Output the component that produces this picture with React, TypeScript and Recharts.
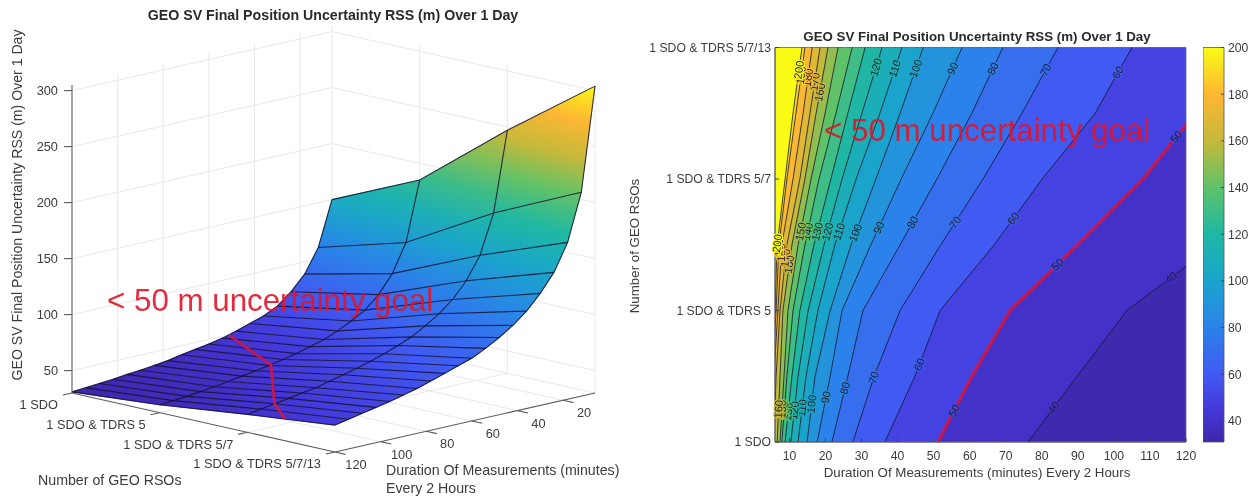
import { Area, Bar, BarChart, ComposedChart, Line, ReferenceArea, ReferenceDot, Scatter, XAxis, YAxis } from "recharts";

// measurement durations (minutes) and the four RSO configurations
const durations = [6, 12, 18, 24, 30, 36, 42, 48, 54, 60, 66, 72, 78, 84, 90, 96, 102, 108, 114, 120];
const rsoRows = [1, 2, 3, 4];
const rsoLabels = ["1 SDO", "1 SDO & TDRS 5", "1 SDO & TDRS 5/7", "1 SDO & TDRS 5/7/13"];

// uncertainty (m) per row, same order as durations
const surfaceSdo = [150, 110, 89, 76, 66, 60, 56, 52, 48.5, 46, 44, 42, 39.5, 38, 36.5, 35.5, 34, 33, 32, 31];
const surfaceTdrs5 = [185, 132, 107, 91, 80, 73, 67, 62, 58.5, 55, 52.5, 50, 48, 46, 44, 42, 40.5, 39, 38, 37];
const surfaceTdrs57 = [247, 176, 141, 121, 107, 97, 89, 82, 77, 72.5, 68.5, 65, 62, 59, 56, 54, 52, 50, 48, 46];
const surfaceTdrs5713 = [304, 212, 170, 146, 130, 117, 107, 99, 92, 86, 82, 78, 74, 70, 67, 64, 61.5, 59, 56.5, 54];
const surfaceValues = [surfaceSdo, surfaceTdrs5, surfaceTdrs57, surfaceTdrs5713];
const goalPath = [
  [51.2, 1],
  [71.2, 2],
  [108.1, 3],
  [120, 3.43],
];

const zTicks = [50, 100, 150, 200, 250, 300];
const durationTicks3d = [20, 40, 60, 80, 100, 120];
const durationTicks = [10, 20, 30, 40, 50, 60, 70, 80, 90, 100, 110, 120];
const colorbarTicks = [40, 60, 80, 100, 120, 140, 160, 180, 200];

// duration (minutes) of each contour at these row positions
const contourRows = [1, 1.5, 2, 2.5, 3, 3.5, 4];
const level40 = [76.2, 89.8, 103.6, 128.1, 151.6, 179.4, 207.1];
const level50 = [51.2, 60.6, 71.2, 90, 108.1, 122.5, 137.8];
const level60 = [36.5, 44.8, 51.8, 66.8, 80.1, 94.8, 105];
const level70 = [27.6, 33.5, 40.7, 52, 63.7, 74.5, 84.5];
const level80 = [21.8, 26.2, 30.4, 40.7, 50.9, 60.6, 69.2];
const level90 = [17.7, 21.3, 24.6, 32.6, 41, 49.8, 57.9];
const level100 = [14.9, 17.1, 21.3, 27.1, 34, 40.7, 47.1];
const level110 = [12.4, 14.6, 17.9, 22.6, 28.5, 35.1, 41.2];
const level120 = [10.4, 12.4, 15.2, 19.6, 24.6, 30.1, 35.7];
const level130 = [8.8, 10.7, 12.9, 16.8, 21.5, 26.2, 31];
const level140 = [7.9, 9.3, 11, 14.3, 18.2, 22.9, 27.4];
const level150 = [7.4, 8.5, 9.6, 12.4, 16, 19.9, 23.5];
const level160 = [6.6, 7.4, 8.2, 10.7, 14.3, 17.4, 20.7];
const level170 = [5.7, 6.3, 7.4, 9.3, 12.9, 15.7, 18.5];
const level180 = [5.2, 5.7, 6.8, 7.9, 11, 13.8, 16.3];
const level190 = [4.6, 5.2, 6.3, 7.1, 9.3, 11.8, 14.3];
const level200 = [3.2, 4.1, 6, 6.6, 8.8, 11, 13.5];
const contours: [number, number[]][] = [
  [40, level40],
  [50, level50],
  [60, level60],
  [70, level70],
  [80, level80],
  [90, level90],
  [100, level100],
  [110, level110],
  [120, level120],
  [130, level130],
  [140, level140],
  [150, level150],
  [160, level160],
  [170, level170],
  [180, level180],
  [190, level190],
  [200, level200],
];
// row positions of the inline contour labels
const contourLabelRows: [number, number[]][] = [
  [40, [1.26, 2.25]],
  [50, [1.24, 2.35, 3.32]],
  [60, [1.59, 2.7, 3.81]],
  [70, [1.49, 2.67, 3.83]],
  [80, [1.41, 2.67, 3.84]],
  [90, [1.34, 2.63, 3.84]],
  [100, [1.29, 2.59, 3.84]],
  [110, [1.26, 2.6, 3.84]],
  [120, [1.24, 2.6, 3.85]],
  [130, [1.23, 2.6]],
  [140, [1.24, 2.6]],
  [150, [1.25, 2.6]],
  [160, [1.25, 2.35, 3.66]],
  [170, [2.4, 3.74]],
  [180, [2.44, 3.77]],
  [190, [2.48, 3.79]],
  [200, [2.51, 3.83]],
];

const TITLE = "GEO SV Final Position Uncertainty RSS (m) Over 1 Day";
const GOAL = "< 50 m uncertainty goal";
const TEXT = "#3c3c3c";
const RED = "#e0142a";
const CRIMSON = "#c9174a";
const FONT = '"Liberation Sans", Arial, sans-serif';

const parulaStops: [number, string][] = [
  [0, "#3e26a8"],
  [0.08, "#4537d8"],
  [0.17, "#4159f2"],
  [0.29, "#2b82ea"],
  [0.41, "#1aa5cb"],
  [0.53, "#1fb8a3"],
  [0.645, "#5fc269"],
  [0.76, "#c3b93a"],
  [0.88, "#fdb733"],
  [1, "#f9fb15"],
];

function parula(t: number) {
  const v = Math.min(1, Math.max(0, t));
  let i = 0;
  while (i < parulaStops.length - 2 && v > parulaStops[i + 1][0]) i++;
  const [t0, c0] = parulaStops[i];
  const [t1, c1] = parulaStops[i + 1];
  const f = (v - t0) / (t1 - t0);
  const ch = (c: string, k: number) => parseInt(c.slice(1 + k * 2, 3 + k * 2), 16);
  const out = [0, 1, 2].map((k) => Math.round(ch(c0, k) + (ch(c1, k) - ch(c0, k)) * f));
  return `rgb(${out.join(",")})`;
}

const Z_MIN = 30;
const Z_MAX = 305;
const surfaceColor = (z: number) => parula((z - Z_MIN) / (Z_MAX - Z_MIN));
const contourColor = (z: number) => parula((z - 31) / 169);

// orthographic view of the MATLAB axes box
function project(minutes: number, row: number, z: number, dx = 0, dy = 0) {
  const m = (120 - minutes) / 114;
  const r = (row - 1) / 3;
  return { sx: 72 + 260 * m + 263 * r + dx, sy: 393 - 59 * m + 59 * r - 1.12 * (z - Z_MIN) + dy };
}

const noMark = () => <g />;

function Polyline({ points, stroke, width = 1, opacity = 1 }: any) {
  return (
    <Scatter
      data={points}
      shape={noMark}
      line={{ stroke, strokeWidth: width, strokeOpacity: opacity }}
      isAnimationActive={false}
    />
  );
}

function patchPath(points: any[]) {
  return points.map((p, i) => `${i ? "L" : "M"}${p.x} ${p.y}`).join("") + "Z";
}

// quad filled with a gradient along the direction in which z changes
function SurfacePatch({ points, zs, id }: any) {
  const n = points.length;
  const mx = points.reduce((a: number, p: any) => a + p.x, 0) / n;
  const my = points.reduce((a: number, p: any) => a + p.y, 0) / n;
  const mz = zs.reduce((a: number, v: number) => a + v, 0) / n;
  let sxx = 0, syy = 0, sxy = 0, sxz = 0, syz = 0;
  points.forEach((p: any, i: number) => {
    const u = p.x - mx;
    const v = p.y - my;
    const w = zs[i] - mz;
    sxx += u * u;
    syy += v * v;
    sxy += u * v;
    sxz += u * w;
    syz += v * w;
  });
  const det = sxx * syy - sxy * sxy || 1;
  const a = (sxz * syy - syz * sxy) / det;
  const b = (syz * sxx - sxz * sxy) / det;
  const g2 = a * a + b * b || 1;
  const zLo = Math.min(...zs);
  const zHi = Math.max(...zs);
  const x1 = mx + (a / g2) * (zLo - mz);
  const y1 = my + (b / g2) * (zLo - mz);
  const x2 = mx + (a / g2) * (zHi - mz);
  const y2 = my + (b / g2) * (zHi - mz);
  const offsets = [0, 0.25, 0.5, 0.75, 1];
  return (
    <g>
      <linearGradient id={id} gradientUnits="userSpaceOnUse" x1={x1} y1={y1} x2={x2} y2={y2}>
        {offsets.map((o) => (
          <stop key={o} offset={o} stopColor={surfaceColor(zLo + (zHi - zLo) * o)} />
        ))}
      </linearGradient>
      <path d={patchPath(points)} fill={`url(#${id})`} stroke={`url(#${id})`} strokeWidth={0.6} />
    </g>
  );
}

function textMark(anchor: string, size: number, extra: any = {}) {
  return (p: any) => (
    <text x={p.cx} y={p.cy} dy={size * 0.35} textAnchor={anchor} fontSize={size} fontFamily={FONT} fill={TEXT} {...extra}>
      {p.payload.text}
    </text>
  );
}

function labelSeries(items: any[], anchor: string, size: number, extra: any = {}) {
  return <Scatter data={items} shape={textMark(anchor, size, extra)} isAnimationActive={false} />;
}

const GRID = "#e9e9e9";
const gridLines: any[][] = [];
const wallEdge = (a: number[], b: number[]) => gridLines.push([project(a[0], a[1], a[2]), project(b[0], b[1], b[2])]);
zTicks.forEach((z) => {
  wallEdge([120, 1, z], [6, 1, z]);
  wallEdge([6, 1, z], [6, 4, z]);
});
[20, 40, 60, 80, 100].forEach((d) => {
  wallEdge([d, 1, Z_MIN], [d, 1, Z_MAX]);
  wallEdge([d, 1, Z_MIN], [d, 4, Z_MIN]);
});
[2, 3].forEach((r) => {
  wallEdge([6, r, Z_MIN], [6, r, Z_MAX]);
  wallEdge([6, r, Z_MIN], [120, r, Z_MIN]);
});
wallEdge([6, 1, Z_MIN], [6, 1, Z_MAX]);
wallEdge([6, 4, Z_MIN], [6, 4, Z_MAX]);
wallEdge([120, 1, Z_MIN], [6, 1, Z_MIN]);
wallEdge([6, 1, Z_MIN], [6, 4, Z_MIN]);

const AXIS = "#5a5a5a";
const axisLines = [
  [project(120, 1, Z_MIN), project(120, 1, Z_MAX)],
  [project(120, 1, Z_MIN), project(120, 4, Z_MIN)],
  [project(120, 4, Z_MIN), project(6, 4, Z_MIN)],
  ...zTicks.map((z) => [project(120, 1, z), project(120, 1, z, -8)]),
  ...durationTicks3d.map((d) => [project(d, 4, Z_MIN), project(d, 4.12, Z_MIN)]),
  ...rsoRows.map((r) => [project(120, r, Z_MIN), project(124, r, Z_MIN)]),
];

const surfacePatches: any[] = [];
for (let r = 0; r < rsoRows.length - 1; r++) {
  for (let c = 0; c < durations.length - 1; c++) {
    const corners = [
      [c, r],
      [c + 1, r],
      [c + 1, r + 1],
      [c, r + 1],
    ];
    surfacePatches.push({
      id: `patch-${r}-${c}`,
      zs: corners.map(([i, j]) => surfaceValues[j][i]),
      points: corners.map(([i, j]) => project(durations[i], rsoRows[j], surfaceValues[j][i])),
    });
  }
}

const rowMesh = rsoRows.map((row, j) => durations.map((d, i) => project(d, row, surfaceValues[j][i])));
const durationMesh = durations.map((d, i) => rsoRows.map((row, j) => project(d, row, surfaceValues[j][i])));
const goalLine = goalPath.map(([d, row]) => project(d, row, 50));

function contourAt(minutes: number[], row: number) {
  let i = 0;
  while (i < contourRows.length - 2 && row > contourRows[i + 1]) i++;
  const f = (row - contourRows[i]) / (contourRows[i + 1] - contourRows[i]);
  const m = minutes[i] + (minutes[i + 1] - minutes[i]) * f;
  const dm = (minutes[i + 1] - minutes[i]) / (contourRows[i + 1] - contourRows[i]);
  return { m, angle: (-Math.atan2(131.5, dm * 3.6) * 180) / Math.PI };
}

const contourData = contourRows.map((row, i) => {
  const entry: any = { row };
  contours.forEach(([level, minutes]) => {
    entry[`L${level}`] = minutes[i];
  });
  return entry;
});
const colorbarData = [{ name: "scale", span: [31, 200] }];

function Left3D() {
  return (
    <ComposedChart width={620} height={500} margin={{ top: 0, right: 0, bottom: 0, left: 0 }}>
      <XAxis type="number" dataKey="sx" domain={[0, 620]} hide />
      <YAxis type="number" dataKey="sy" domain={[0, 500]} reversed hide />
      {gridLines.map((pts) => Polyline({ points: pts, stroke: GRID }))}
      {surfacePatches.map((cell) => (
        <Scatter
          key={cell.id}
          data={cell.points}
          shape={noMark}
          line={(p: any) => <SurfacePatch points={p.points} zs={cell.zs} id={cell.id} />}
          isAnimationActive={false}
        />
      ))}
      {rowMesh.map((pts) => Polyline({ points: pts, stroke: "#101030", width: 1.1, opacity: 0.85 }))}
      {durationMesh.map((pts) => Polyline({ points: pts, stroke: "#101030", width: 1.1, opacity: 0.85 }))}
      {Polyline({ points: goalLine, stroke: CRIMSON, width: 2.6 })}
      {axisLines.map((pts) => Polyline({ points: pts, stroke: AXIS, width: 1.1 }))}
      {labelSeries(zTicks.map((z) => ({ ...project(120, 1, z, -14), text: String(z) })), "end", 12.8)}
      {labelSeries(rsoRows.map((r, i) => ({ ...project(120, r, Z_MIN, -14, 12), text: rsoLabels[i] })), "end", 12.8)}
      {labelSeries(durationTicks3d.map((d) => ({ ...project(d, 4, Z_MIN, 21, 12.5), text: String(d) })), "middle", 12.8)}
      {labelSeries([{ sx: 107, sy: 300, text: GOAL }], "start", 31.3, { fill: RED, fillOpacity: 0.9 })}
      <text x={333} y={20} textAnchor="middle" fontSize={14.2} fontWeight="bold" fontFamily={FONT} fill="#2a2a2a">
        {TITLE}
      </text>
      <text transform="translate(22,205) rotate(-90)" textAnchor="middle" fontSize={14.1} fontFamily={FONT} fill={TEXT}>
        {TITLE}
      </text>
      <text x={38} y={485} fontSize={14.2} fontFamily={FONT} fill={TEXT}>
        Number of GEO RSOs
      </text>
      <text x={386} y={475} fontSize={14.2} fontFamily={FONT} fill={TEXT}>
        Duration Of Measurements (minutes)
      </text>
      <text x={386} y={493} fontSize={14.2} fontFamily={FONT} fill={TEXT}>
        Every 2 Hours
      </text>
    </ComposedChart>
  );
}

function ContourChart() {
  return (
    <ComposedChart width={633} height={500} layout="vertical" data={contourData} margin={{ top: 47.5, right: 67, bottom: 0, left: 0 }}>
      <ReferenceArea x1={6} x2={120} y1={1} y2={4} fill={contourColor(33)} fillOpacity={1} stroke="none" ifOverflow="visible" />
      {contours.map(([level]) => (
        <Area
          key={level}
          dataKey={`L${level}`}
          fill={contourColor(level)}
          fillOpacity={1}
          stroke="none"
          dot={false}
          activeDot={false}
          isAnimationActive={false}
        />
      ))}
      {contours.map(([level]) => (
        <Line
          key={level}
          dataKey={`L${level}`}
          stroke={level === 50 ? CRIMSON : "#14142a"}
          strokeWidth={level === 50 ? 3 : 0.8}
          dot={false}
          activeDot={false}
          isAnimationActive={false}
        />
      ))}
      <XAxis
        type="number"
        domain={[6, 120]}
        ticks={durationTicks}
        allowDataOverflow
        height={58}
        interval={0}
        tick={{ fontSize: 12.2, fill: TEXT, fontFamily: FONT }}
        tickLine={{ stroke: "#444" }}
        tickSize={-4}
        axisLine={{ stroke: AXIS }}
        tickMargin={13}
      />
      <YAxis
        type="number"
        dataKey="row"
        domain={[1, 4]}
        reversed
        ticks={rsoRows}
        width={155}
        interval={0}
        tickFormatter={(v: number) => rsoLabels[v - 1]}
        tick={{ fontSize: 12.2, fill: TEXT, fontFamily: FONT }}
        tickLine={{ stroke: "#444" }}
        tickSize={-4}
        axisLine={{ stroke: AXIS }}
        tickMargin={8}
      />
      {contourLabelRows.flatMap(([level, rows]) => {
        const minutes = contours.find((c) => c[0] === level)![1];
        return rows.map((row) => {
          const at = contourAt(minutes, row);
          return (
            <ReferenceDot
              key={`${level}-${row}`}
              x={at.m}
              y={row}
              r={0}
              ifOverflow="visible"
              shape={(p: any) => (
                <text
                  transform={`translate(${p.cx},${p.cy}) rotate(${at.angle})`}
                  dy={3.8}
                  textAnchor="middle"
                  fontSize={11}
                  fontFamily={FONT}
                  fill="#1c1c2c"
                  stroke={contourColor(level)}
                  strokeWidth={2.5}
                  paintOrder="stroke"
                >
                  {level}
                </text>
              )}
            />
          );
        });
      })}
      <ReferenceArea x1={6} x2={120} y1={1} y2={4} fill="none" stroke="#6a6a7a" strokeWidth={0.8} ifOverflow="visible" />
      <ReferenceDot
        x={19.6}
        y={3.37}
        r={0}
        ifOverflow="visible"
        shape={(p: any) => (
          <text x={p.cx} y={p.cy} dy={11} fontSize={31.3} fontFamily={FONT} fill={RED} fillOpacity={0.9}>
            {GOAL}
          </text>
        )}
      />
      <text x={357} y={41} textAnchor="middle" fontSize={13.3} fontWeight="bold" fontFamily={FONT} fill="#2a2a2a">
        {TITLE}
      </text>
      <text x={357} y={477} textAnchor="middle" fontSize={13.3} fontFamily={FONT} fill={TEXT}>
        Duration Of Measurements (minutes) Every 2 Hours
      </text>
      <text transform="translate(19,246) rotate(-90)" textAnchor="middle" fontSize={13.3} fontFamily={FONT} fill={TEXT}>
        Number of GEO RSOs
      </text>
    </ComposedChart>
  );
}

function Colorbar() {
  return (
    <BarChart width={50} height={500} data={colorbarData} barCategoryGap={0} margin={{ top: 47.5, right: 0, bottom: 58, left: 0 }}>
      <defs>
        <linearGradient id="parulaBar" x1="0" y1="1" x2="0" y2="0">
          {parulaStops.map(([t, c]) => (
            <stop key={t} offset={t} stopColor={c} />
          ))}
        </linearGradient>
      </defs>
      <XAxis dataKey="name" hide />
      <Bar dataKey="span" fill="url(#parulaBar)" stroke="#555" strokeWidth={0.8} isAnimationActive={false} />
      <YAxis
        orientation="right"
        type="number"
        domain={[31, 200]}
        ticks={colorbarTicks}
        interval={0}
        width={29}
        tick={{ fontSize: 12.2, fill: TEXT, fontFamily: FONT }}
        axisLine={false}
        tickLine={{ stroke: "#444" }}
        tickSize={-3}
        tickMargin={7}
      />
    </BarChart>
  );
}

export default function App() {
  return (
    <div style={{ position: "fixed", left: 0, top: 0, width: 1253, height: 500, background: "#fff", filter: "blur(0.6px)" }}>
      <div style={{ position: "absolute", left: 0, top: 0 }}>
        <Left3D />
      </div>
      <div style={{ position: "absolute", left: 620, top: 0 }}>
        <ContourChart />
      </div>
      <div style={{ position: "absolute", left: 1203, top: 0 }}>
        <Colorbar />
      </div>
    </div>
  );
}
